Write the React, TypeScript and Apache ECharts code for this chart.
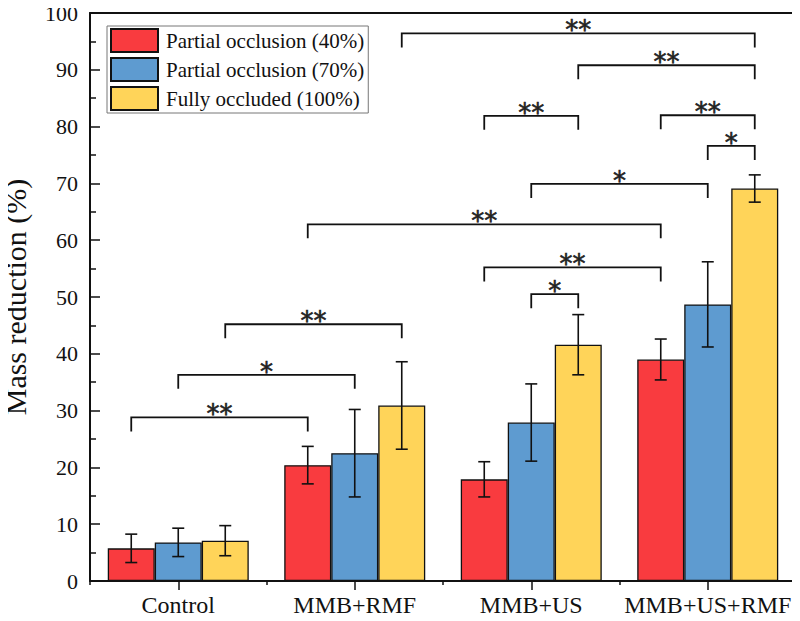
import React, { useEffect, useRef } from "react";
import * as echarts from "echarts";

const categories = ["Control", "MMB+RMF", "MMB+US", "MMB+US+RMF"];
const seriesNames = ["Partial occlusion (40%)", "Partial occlusion (70%)", "Fully occluded (100%)"];
const colors = ["#F93B3F", "#5E9BD0", "#FFD459"];

const mean40 = [5.75, 20.4, 17.9, 39.0];
const mean70 = [6.8, 22.5, 27.9, 48.7];
const mean100 = [7.1, 30.9, 41.6, 69.1];
const err40 = [2.5, 3.3, 3.1, 3.6];
const err70 = [2.5, 7.7, 6.8, 7.5];
const err100 = [2.65, 7.7, 5.3, 2.4];

// [fromCategory, fromSeries, toCategory, toSeries, height, label]
const brackets: [number, number, number, number, number, string][] = [
  [0, 0, 1, 0, 28.8, "**"],
  [0, 1, 1, 1, 36.3, "*"],
  [0, 2, 1, 2, 45.2, "**"],
  [1, 0, 3, 0, 62.8, "**"],
  [2, 0, 3, 0, 55.2, "**"],
  [2, 1, 2, 2, 50.5, "*"],
  [2, 1, 3, 1, 69.9, "*"],
  [2, 0, 2, 2, 81.9, "**"],
  [3, 0, 3, 2, 82.0, "**"],
  [3, 1, 3, 2, 76.6, "*"],
  [2, 2, 3, 2, 90.8, "**"],
  [1, 2, 3, 2, 96.4, "**"],
];

const BAR_FRAC = 0.2663;
const SERIF = "'Liberation Serif', 'Times New Roman', serif";

export default function App() {
  const ref = useRef<HTMLDivElement>(null);
  useEffect(() => {
    if (!ref.current) return;
    const chart = echarts.init(ref.current, undefined, { renderer: "svg" });
    const means = [mean40, mean70, mean100];
    const errs = [err40, err70, err100];

    const errData: number[][] = [];
    for (let s = 0; s < 3; s++) {
      for (let c = 0; c < categories.length; c++) {
        errData.push([c, means[s][c] - errs[s][c], means[s][c] + errs[s][c], s]);
      }
    }

    const subX = (api: any, cat: number, sub: number, y: number) => {
      const p = api.coord([cat, y]);
      const bw = api.size([1, 0])[0];
      return [p[0] + (sub - 1) * bw * BAR_FRAC, p[1]];
    };

    const barSeries = seriesNames.map((name, i) => ({
      name,
      type: "bar",
      data: means[i],
      barWidth: BAR_FRAC * 100 + "%",
      barGap: "0%",
      itemStyle: { color: colors[i], borderColor: "#111", borderWidth: 1.3 },
      z: 2,
    }));

    chart.setOption({
      animation: false,
      backgroundColor: "#fff",
      grid: { left: 90, right: 4, top: 13, bottom: 40, containLabel: false, outerBoundsMode: "none" },
      legend: {
        data: seriesNames,
        orient: "vertical",
        left: 107,
        top: 26,
        padding: [2, 4, 2, 3],
        itemWidth: 47,
        itemHeight: 23,
        itemGap: 4,
        icon: "rect",
        borderColor: "#777",
        borderWidth: 1,
        textStyle: { fontFamily: SERIF, fontSize: 21, color: "#111", padding: [0, 0, 0, 3] },
      },
      xAxis: [
        {
          type: "category",
          data: categories,
          position: "bottom",
          axisLine: { show: true, lineStyle: { color: "#111", width: 2 } },
          axisTick: { show: true, length: 4, lineStyle: { color: "#111", width: 1.5 } },
          axisLabel: { fontFamily: SERIF, fontSize: 24, color: "#111", margin: 12, interval: 0 },
          splitLine: { show: false },
        },
        {
          type: "category",
          data: categories,
          position: "bottom",
          axisLine: { show: false },
          axisTick: { show: true, alignWithLabel: true, length: 9, lineStyle: { color: "#111", width: 1.5 } },
          axisLabel: { show: false },
          splitLine: { show: false },
        },
        {
          type: "value",
          position: "top",
          min: 0,
          max: 1,
          axisLine: { show: true, onZero: false, lineStyle: { color: "#111", width: 2 } },
          axisTick: { show: false },
          axisLabel: { show: false },
          splitLine: { show: false },
        },
      ],
      yAxis: [
        {
          type: "value",
          min: 0,
          max: 100,
          interval: 10,
          name: "Mass reduction (%)",
          nameLocation: "middle",
          nameGap: 60,
          nameTextStyle: { fontFamily: SERIF, fontSize: 30, color: "#111" },
          axisLine: { show: true, lineStyle: { color: "#111", width: 2 } },
          axisTick: { show: true, inside: true, length: 10, lineStyle: { color: "#111", width: 1.5 } },
          minorTick: { show: true, splitNumber: 2, length: 6, lineStyle: { color: "#111", width: 1.5 } },
          axisLabel: { fontFamily: SERIF, fontSize: 22, color: "#111", margin: 12 },
          splitLine: { show: false },
        },
        {
          type: "value",
          position: "right",
          min: 0,
          max: 1,
          axisLine: { show: true, onZero: false, lineStyle: { color: "#111", width: 2 } },
          axisTick: { show: false },
          axisLabel: { show: false },
          splitLine: { show: false },
        },
      ],
      series: [
        ...barSeries,
        {
          type: "custom",
          name: "errors",
          xAxisIndex: 0,
          yAxisIndex: 0,
          data: errData,
          encode: { x: 0, y: [1, 2] },
          z: 5,
          renderItem: (params: any, api: any) => {
            const cat = api.value(0);
            const sub = api.value(3);
            const lo = subX(api, cat, sub, api.value(1));
            const hi = subX(api, cat, sub, api.value(2));
            const cap = 6;
            const style = { stroke: "#111", lineWidth: 1.6 };
            return {
              type: "group",
              children: [
                { type: "line", shape: { x1: lo[0], y1: lo[1], x2: hi[0], y2: hi[1] }, style },
                { type: "line", shape: { x1: hi[0] - cap, y1: hi[1], x2: hi[0] + cap, y2: hi[1] }, style },
                { type: "line", shape: { x1: lo[0] - cap, y1: lo[1], x2: lo[0] + cap, y2: lo[1] }, style },
              ],
            };
          },
        },
        {
          type: "custom",
          name: "brackets",
          xAxisIndex: 0,
          yAxisIndex: 0,
          data: brackets,
          encode: { x: 0, y: 4 },
          z: 6,
          renderItem: (params: any, api: any) => {
            const a = subX(api, api.value(0), api.value(1), api.value(4));
            const b = subX(api, api.value(2), api.value(3), api.value(4));
            const label = brackets[params.dataIndex][5];
            const drop = 14;
            const style = { stroke: "#111", lineWidth: 1.8, fill: null };
            return {
              type: "group",
              children: [
                {
                  type: "polyline",
                  shape: { points: [[a[0], a[1] + drop], [a[0], a[1]], [b[0], b[1]], [b[0], b[1] + drop]] },
                  style,
                },
                {
                  type: "text",
                  x: (a[0] + b[0]) / 2,
                  y: a[1] + 10,
                  style: {
                    text: label,
                    fontFamily: "'DejaVu Sans', sans-serif",
                    fontSize: 26,
                    fill: "#222",
                    stroke: "#222",
                    lineWidth: 0.6,
                    align: "center",
                    verticalAlign: "bottom",
                  },
                },
              ],
            };
          },
        },
      ],
    });
    return () => chart.dispose();
  }, []);
  return <div ref={ref} style={{ width: 800, height: 621, margin: -8 }} />;
}
